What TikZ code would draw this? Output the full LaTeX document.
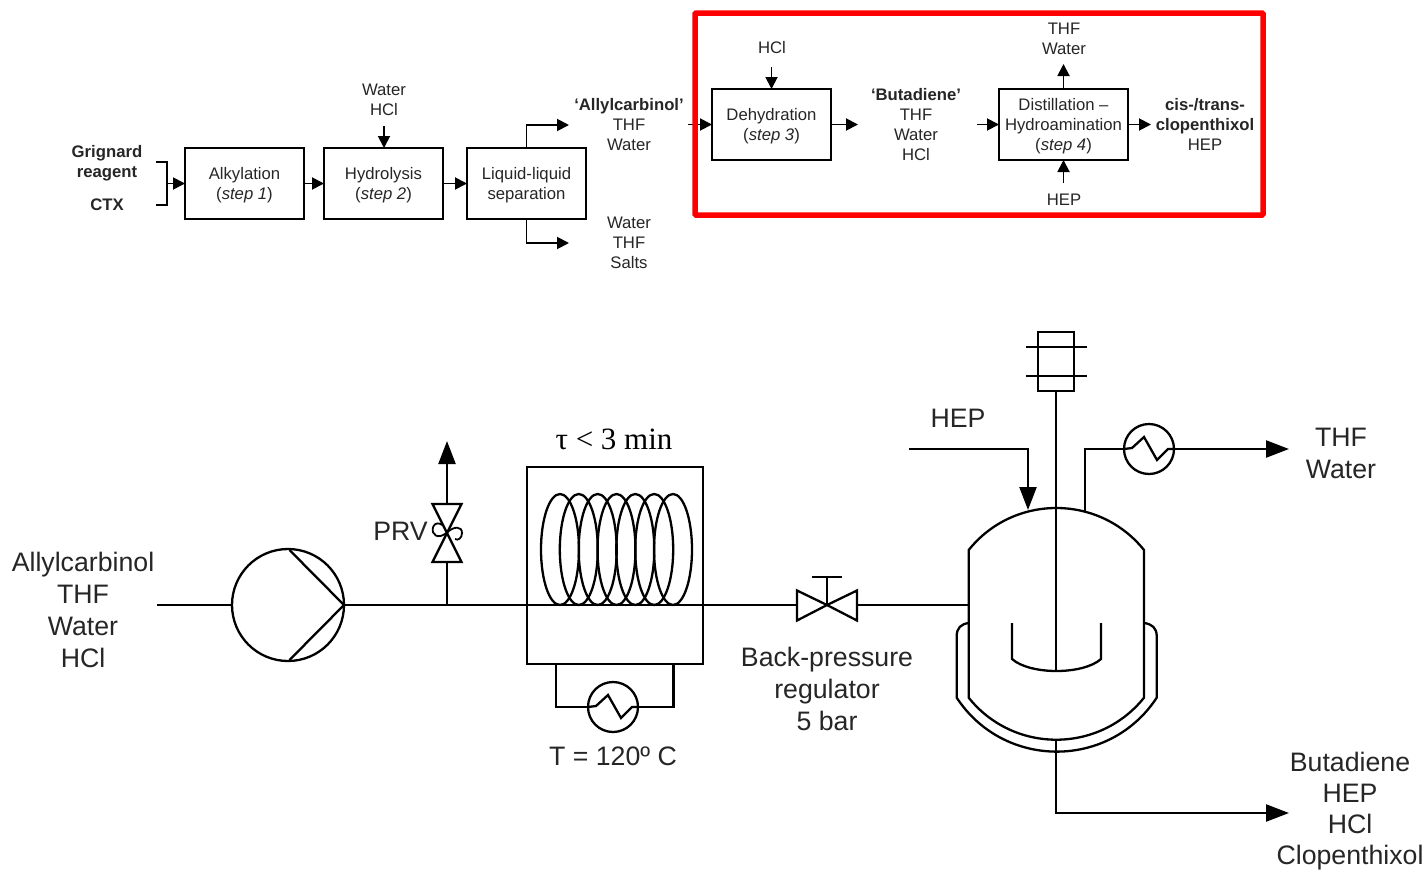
\documentclass[tikz,border=0pt]{standalone}
\usepackage{fontspec}
\setmainfont{Liberation Sans}
\newfontfamily\tauserif{Liberation Serif}
\usetikzlibrary{arrows.meta}
\definecolor{inkgray}{HTML}{262626}
\newcommand{\boxlead}{\rule{0pt}{16.2pt}}
\tikzset{
  thin line/.style={line width=1.9pt,black,line join=miter},
  thick line/.style={line width=2.3pt,black,line join=miter},
  small arrow/.style={thin line,-{Triangle[length=12pt,width=12pt]}},
  big arrow/.style={thick line,-{Triangle[length=23pt,width=17pt]}},
  stepbox/.style={draw,thin line,fill=white,rectangle,inner sep=0pt,outer sep=0pt,minimum height=71pt,align=center,text=inkgray,font=\fontsize{16.7}{20}\selectfont},
  small label/.style={inner sep=0pt,outer sep=0pt,align=center,text=inkgray,font=\fontsize{16.7}{20}\selectfont},
  big label/.style={inner sep=0pt,outer sep=0pt,align=center,text=inkgray,font=\fontsize{26.7}{32}\selectfont},
  round item/.style={draw,thick line,circle,inner sep=0pt,outer sep=0pt},
}
\begin{document}
\begin{tikzpicture}[x=1pt,y=-1pt]
\useasboundingbox (0,0) rectangle (1424,873);
\fill[white] (0,0) rectangle (1424,873);

% ---- upper block diagram
\node[stepbox,minimum width=119pt] (alk) at (244.5,183.5) {\boxlead Alkylation\\(\textit{step 1})};
\node[stepbox,minimum width=119pt] (hyd) at (383.5,183.5) {\boxlead Hydrolysis\\(\textit{step 2})};
\node[stepbox,minimum width=119pt] (sep) at (526.5,183.5) {\boxlead Liquid-liquid\\separation};
\node[stepbox,minimum width=119pt] (deh) at (771.5,124.5) {\boxlead Dehydration\\(\textit{step 3})};
\node[stepbox,minimum width=129pt] (dist) at (1063.5,124.5) {\boxlead Distillation --\\Hydroamination\\(\textit{step 4})};

\node[small label,font=\fontsize{16.7}{20}\selectfont\bfseries] (grig) at (107,163) {Grignard\\reagent};
\node[small label,font=\fontsize{16.7}{20}\selectfont\bfseries] (ctx) at (107,204.5) {CTX};
\node[small label] (waterhcl) at (384,99.5) {Water\\HCl};
\node[small label] (allyl) at (629,124.5) {\textbf{‘Allylcarbinol’}\\THF\\Water};
\node[small label] (salts) at (629,242.5) {Water\\THF\\Salts};
\node[small label] (hcl) at (772,48) {HCl};
\node[small label] (buta) at (916,125) {\textbf{‘Butadiene’}\\THF\\Water\\HCl};
\node[small label] (thfw) at (1064,39) {THF\\Water};
\node[small label] (hep) at (1064,200) {HEP};
\node[small label] (prod) at (1205,124.5) {\textbf{cis-/trans-}\\\textbf{clopenthixol}\\HEP};

\coordinate (brT) at (156,162);
\coordinate (brB) at (156,205);
\coordinate (brM) at (167,183.5);
\coordinate (hydIn) at (384,126);
\coordinate (sepUp) at (569,125);
\coordinate (sepDn) at (569,243);
\coordinate (dehIn) at (688,124.5);
\coordinate (dehOut) at (858,124.5);
\coordinate (distIn) at (977,124.5);
\coordinate (distOut) at (1151,124.5);

\draw[thin line] (brT) -| (brM) |- (brB);
\draw[small arrow] (brM) -- (alk.west);
\draw[small arrow] (alk) -- (hyd);
\draw[small arrow] (hyd) -- (sep);
\draw[small arrow] (hydIn) -- (hyd.north -| hydIn);
\draw[small arrow] (sep.north) |- (sepUp);
\draw[small arrow] (sep.south) |- (sepDn);
\draw[small arrow] (dehIn) -- (deh.west);
\draw[small arrow] (deh.east) -- (dehOut);
\draw[small arrow] (distIn) -- (dist.west);
\draw[small arrow] (dist.east) -- (distOut);
\draw[small arrow] (deh.north |- 0,67) -- (deh.north);
\draw[small arrow] (dist.north) -- (1063.5,64);
\draw[small arrow] (1063.5,183) -- (dist.south);

\draw[red,line width=5.5pt,rounded corners=1pt] (695,13) rectangle (1263,215);

% ---- lower process diagram
\node[big label] (feed) at (83,610) {Allylcarbinol\\THF\\Water\\HCl};
\node[big label] (prv) at (400.5,531) {PRV};
\node[inner sep=0pt,outer sep=0pt,text=black,font=\fontsize{31}{34}\selectfont\tauserif] (tau) at (614,439) {τ < 3 min};
\node[big label] (temp) at (613,756) {T = 120º C};
\node[big label] (bpr) at (827,689) {Back-pressure\\regulator\\5 bar};
\node[big label] (hepb) at (958,418) {HEP};
\node[big label] (top) at (1341,453) {THF\\Water};
\node[big label,font=\fontsize{26.7}{31}\selectfont] (bottom) at (1350,811) {Butadiene\\HEP\\HCl\\Clopenthixol};

\node[round item,minimum size=112pt] (pump) at (288,605) {};
\draw[thick line] (289.5,550) -- (pump.east) -- (289.5,660);
\coordinate (feedStart) at (157,605);
\draw[thick line] (feedStart) -- (pump.west);

% coil reactor
\draw[thick line] (527,467) rectangle (703,664);
\foreach \cx in {560,578.8,597.7,616.5,635.3,654.2,673}
  \draw[thick line] (\cx,549.5) ellipse [x radius=19,y radius=55.5];

% pipe to vessel
\coordinate (wallL) at (968.7,605);
\coordinate (bprL) at (797,605);
\coordinate (bprR) at (857,605);
\coordinate (bprC) at (827,605);
\draw[thick line] (pump.east) -- (bprL);
\draw[thick line] (bprR) -- (wallL);

% back-pressure valve
\draw[thick line] (bprC) -- (797,590.5) -- (797,620.5) -- cycle;
\draw[thick line] (bprC) -- (857,590.5) -- (857,620.5) -- cycle;
\draw[thick line] (bprC) -- (827,577);
\draw[thick line] (812,577) -- (842,577);

% PRV
\coordinate (prvTap) at (447,605);
\coordinate (prvTip) at (447,441);
\draw[thick line] (prvTap) -- (447,562);
\draw[thick line] (432.5,504) -- (461.5,504) -- (432.5,562) -- (461.5,562) -- cycle;
\draw[big arrow] (447,504) -- (prvTip);
\draw[line width=1.8pt,black] (433,527) .. controls (431,535) and (438,540) .. (447,532.5)
   .. controls (454,526) and (462,526) .. (462,533) .. controls (462,538) and (458,541) .. (455,539);
\draw[line width=1.8pt,black] (433,527) .. controls (435,522) and (440,523) .. (442,525);

% coil heat exchanger
\node[round item,fill=white,minimum size=50pt] (hxA) at (613,707) {};
\draw[thick line] (556,664) |- (hxA.west);
\draw[thick line] (673.5,664) |- (hxA.east);
\draw[thick line] (hxA.west) -- ++(8,-1) -- (608,695) -- (621,718) -- (632,707) -- (hxA.east);

% vessel
\coordinate (shaftTop) at (1056,391);
\coordinate (hub) at (1056,671);
\coordinate (vesBot) at (1056,740);
\draw[thick line] (968.7,697.7) -- (968.7,550)
   .. controls (1013.5,494) and (1099,494) .. (1144,550) -- (1144,697.7)
   .. controls (1099,753.7) and (1013.5,753.7) .. (968.7,697.7) -- cycle;
\draw[thick line] (968.7,623) .. controls (961,624) and (956.7,628) .. (956.7,636) -- (956.7,697.7)
   .. controls (1004,769.6) and (1109.5,769.6) .. (1156.7,697.7) -- (1156.7,636)
   .. controls (1156.7,628) and (1152,624) .. (1144,623);
\draw[thick line] (1012,623) -- (1012,659) .. controls (1030,675) and (1083,675) .. (1101,659) -- (1101,623);
\draw[thick line] (shaftTop) -- (hub);

% motor
\draw[thick line] (1038,332) rectangle (1074,391);
\draw[thick line] (1026,347) -- (1087,347);
\draw[thick line] (1026,376) -- (1087,376);

% HEP feed
\coordinate (hepStart) at (909,449);
\coordinate (hepEnd) at (1028,510);
\draw[big arrow] (hepStart) -| (hepEnd);

% overhead
\node[round item,fill=white,minimum size=50pt] (hxB) at (1149,449) {};
\coordinate (ovhStart) at (1085,511);
\coordinate (ovhEnd) at (1289,449);
\draw[thick line] (ovhStart) |- (hxB.west);
\draw[big arrow] (hxB.east) -- (ovhEnd);
\draw[thick line] (hxB.west) -- ++(8,-1) -- (1144,437) -- (1157,460) -- (1168,449) -- (hxB.east);

% bottoms
\coordinate (botEnd) at (1289,813);
\draw[big arrow] (vesBot) |- (botEnd);
\end{tikzpicture}
\end{document}
